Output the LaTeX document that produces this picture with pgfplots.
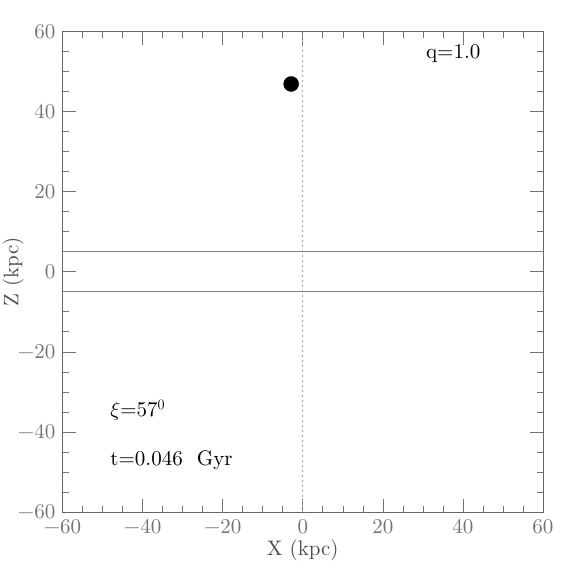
\documentclass[border=0pt]{standalone}
\usepackage{fontspec}
\setmainfont{lmroman10-regular.otf}
\usepackage{pgfplots}
\pgfplotsset{compat=1.18}
\newcommand\bigf{\fontsize{21}{24}\selectfont}
\begin{document}
\bigf
\begin{tikzpicture}
\begin{axis}[
    name=ax,
    scale only axis,
    width=480pt, height=480pt,
    xmin=-60, xmax=60, ymin=-60, ymax=60,
    xtick={-60,-40,...,60}, ytick={-60,-40,...,60},
    xticklabels={−60,−40,−20,0,20,40,60},
    yticklabels={−60,−40,−20,0,20,40,60},
    minor tick num=3,
    tick align=inside,
    major tick length=13pt,
    minor tick length=6pt,
    every tick/.style={black!55, line width=0.6pt},
    axis line style={black!60, line width=0.7pt},
    tick label style={font=\bigf, text=black!55},
    xlabel={X (kpc)}, ylabel={Z (kpc)},
    label style={font=\bigf, text=black!70},
    x label style={at={(axis description cs:0.5,0)}, anchor=center, yshift=-38pt},
    y label style={at={(axis description cs:-0.103,0.5)}, anchor=center},
    clip=false,
]
% disc boundaries
\addplot[black!50, line width=0.6pt] coordinates {(-60,5) (60,5)};
\addplot[black!50, line width=0.6pt] coordinates {(-60,-5) (60,-5)};
% x = 0
\addplot[black!35, dash pattern=on 2pt off 3pt, line width=0.7pt] coordinates {(0,-60) (0,60)};
% satellite
\addplot[only marks, mark=*, mark size=7.5pt, black] coordinates {(-2.9,46.9)};

\node[anchor=center, font=\bigf] at (axis cs:37.6,54.6) {q=1.0};
\node[anchor=west, font=\bigf, inner sep=0pt] at (axis cs:-48.1,-34.6) {$\xi$=57$^0$};
\node[anchor=west, font=\bigf, inner sep=0pt] at (axis cs:-48.1,-47.1) {t=0.046 \ Gyr};
\end{axis}
\pgfresetboundingbox
\path[use as bounding box] ([shift={(-62.5pt,-62pt)}]ax.south west) rectangle ([shift={(31pt,31.5pt)}]ax.north east);
\end{tikzpicture}
\end{document}
